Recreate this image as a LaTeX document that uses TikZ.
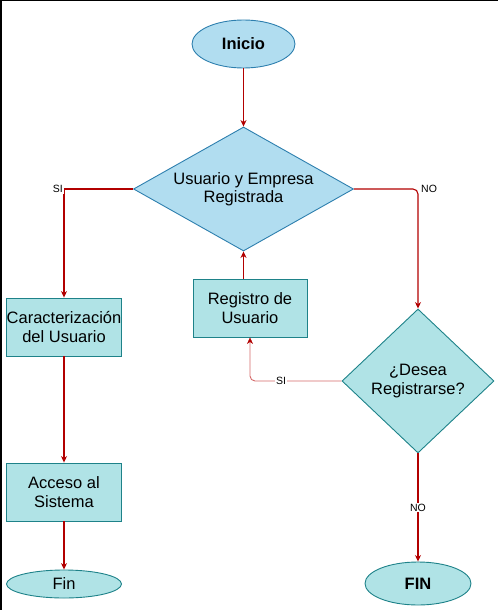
\documentclass[tikz,border=0pt]{standalone}
\usepackage{fontspec}
\setmainfont{Liberation Sans}
\usetikzlibrary{shapes.geometric,arrows.meta}
\definecolor{bfill}{HTML}{B1DDF0}
\definecolor{bline}{HTML}{2D7FAE}
\definecolor{tfill}{HTML}{B0E3E6}
\definecolor{tline}{HTML}{1E8289}
\definecolor{arr}{HTML}{B20000}
\definecolor{arrlight}{HTML}{D46A6A}
\tikzset{
  every node/.style={font=\fontsize{16.5}{18.5}\selectfont, text=black, inner sep=0pt, align=center},
  termblue/.style={ellipse, draw=bline, fill=bfill, line width=0.9pt},
  termteal/.style={ellipse, draw=tline, fill=tfill, line width=0.9pt},
  procbox/.style={rectangle, draw=tline, fill=tfill, line width=0.9pt},
  decblue/.style={diamond, draw=bline, fill=bfill, line width=0.9pt},
  decteal/.style={diamond, draw=tline, fill=tfill, line width=0.9pt},
  flow/.style={draw=arr, line width=1.1pt, -{Stealth[length=6.5pt,width=6pt,inset=2pt]}},
  flowlight/.style={draw=arrlight, line width=0.9pt, -{Stealth[length=6.5pt,width=6pt,inset=2pt,color=arr,line width=0.5pt]}},
  lbl/.style={font=\fontsize{10.5}{12}\selectfont, fill=white, inner sep=1pt}
}
\begin{document}
\begin{tikzpicture}[x=1pt,y=-1pt]
\useasboundingbox (0,0) rectangle (498,610);
\fill[black] (0,0) rectangle (2,610);
\fill[black] (0,0) rectangle (498,1.2);

\node[termblue, minimum width=103pt, minimum height=48pt] (inicio) at (243.5,44) {\bfseries Inicio};
\node[decblue, minimum width=220pt, minimum height=124pt] (d1) at (243.5,189) {};
\node (d1t) at (d1.center) {Usuario y Empresa\\Registrada};
\node[procbox, minimum width=115pt, minimum height=58pt] (car) at (64,327) {Caracterización\\del Usuario};
\node[procbox, minimum width=115pt, minimum height=58pt] (acc) at (64,492) {Acceso al\\Sistema};
\node[termteal, minimum width=115pt, minimum height=28pt] (fin) at (64,584) {Fin};
\node[procbox, minimum width=114pt, minimum height=58pt] (reg) at (250,308) {Registro de\\Usuario};
\node[decteal, minimum width=152pt, minimum height=144pt] (d2) at (418,381) {};
\node (d2t) at (d2.center) {¿Desea\\Registrarse?};
\node[termteal, minimum width=106pt, minimum height=43pt] (FIN) at (418,583.5) {\bfseries FIN};

\coordinate (c1) at (64,189);
\coordinate (c2) at (418,189);
\coordinate (c3) at (250,381);

\draw[flow] (inicio.south) -- (d1.north);
\draw[flow] (d1.west) -- (c1) -- (car.north);
\node[lbl, anchor=east] at (c1) {SI};
\draw[flow, rounded corners=5pt] (d1.east) -- (c2) -- (d2.north);
\node[lbl, anchor=west, fill=none] at ([xshift=2pt]c2) {NO};
\draw[flow] (car) -- (acc);
\draw[flow] (acc) -- (fin);
\draw[flow] (reg.north -| d1.south) -- (d1.south);
\draw[flowlight, rounded corners=5pt] (d2.west) -- (c3) -- (reg.south -| c3);
\node[lbl] at (281,381) {SI};
\draw[flow] (d2.south) -- node[lbl] {NO} (FIN);
\end{tikzpicture}
\end{document}
